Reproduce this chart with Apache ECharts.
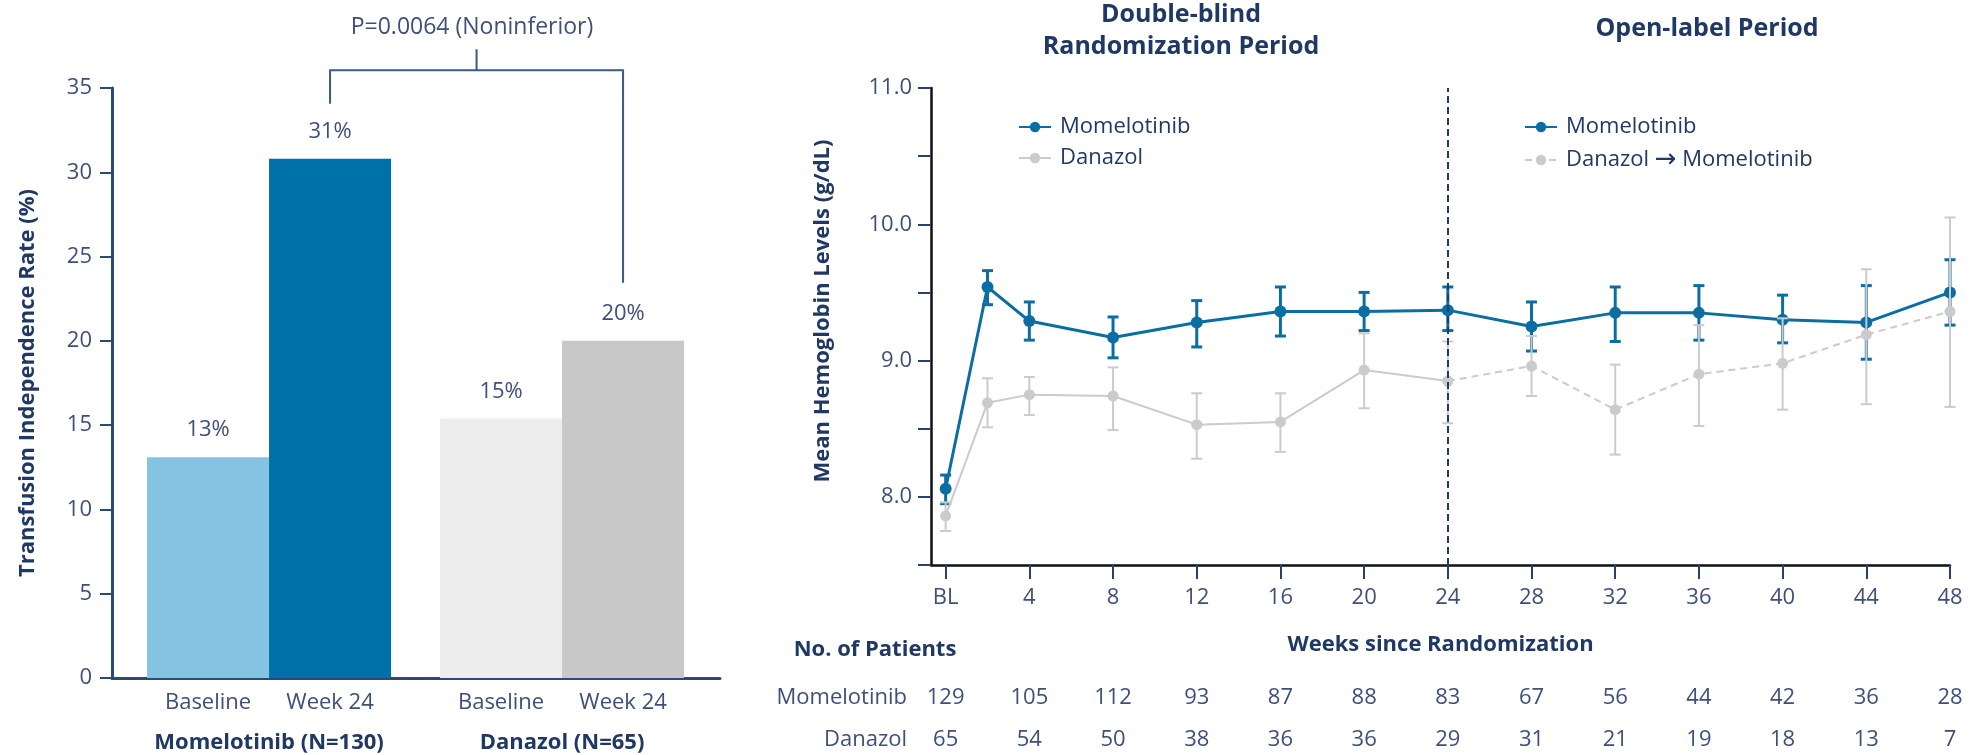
<!DOCTYPE html>
<html><head><meta charset="utf-8">
<script src="https://cdn.jsdelivr.net/npm/echarts@6/dist/echarts.min.js"></script>
<style>html,body{margin:0;padding:0;background:#fff}#c{width:1972px;height:755px}</style>
</head><body><div id="c"></div>
<script>
// ---------- Left panel data ----------
const barGroups = ['Momelotinib (N=130)', 'Danazol (N=65)'];
const barTimepoints = ['Baseline', 'Week 24'];
const tiBaseline = [13.1, 15.4];
const tiWeek24 = [30.8, 20.0];
const leftTickMax = 35, leftTickStep = 5;
const pValueText = 'P=0.0064 (Noninferior)';

// ---------- Right panel data ----------
const weeks    = [0, 2, 4, 8, 12, 16, 20, 24, 28, 32, 36, 40, 44, 48];
const momMean  = [8.06, 9.54, 9.29, 9.17, 9.28, 9.36, 9.36, 9.37, 9.25, 9.35, 9.35, 9.30, 9.28, 9.50];
const momLow   = [7.95, 9.41, 9.15, 9.02, 9.10, 9.18, 9.22, 9.22, 9.07, 9.14, 9.15, 9.13, 9.01, 9.26];
const momHigh  = [8.16, 9.66, 9.43, 9.32, 9.44, 9.54, 9.50, 9.54, 9.43, 9.54, 9.55, 9.48, 9.55, 9.74];

const danWeeks = [0, 2, 4, 8, 12, 16, 20, 24];
const danMean  = [7.86, 8.69, 8.75, 8.74, 8.53, 8.55, 8.93, 8.85];
const danLow   = [7.75, 8.51, 8.60, 8.49, 8.28, 8.33, 8.65, 8.54];
const danHigh  = [7.96, 8.87, 8.88, 8.95, 8.76, 8.76, 9.20, 9.14];

const olWeeks  = [24, 28, 32, 36, 40, 44, 48];
const olMean   = [8.85, 8.96, 8.64, 8.90, 8.98, 9.19, 9.36];
const olLow    = [8.54, 8.74, 8.31, 8.52, 8.64, 8.68, 8.66];
const olHigh   = [9.14, 9.18, 8.97, 9.26, 9.31, 9.67, 10.05];

const tableWeeks = [0, 4, 8, 12, 16, 20, 24, 28, 32, 36, 40, 44, 48];
const momN = [129, 105, 112, 93, 87, 88, 83, 67, 56, 44, 42, 36, 28];
const danN = [65, 54, 50, 38, 36, 36, 29, 31, 21, 19, 18, 13, 7];
const switchWeek = 24;

// ---------- Styles ----------
const FONT = 'Open Sans';
const NAVY = '#1f3864';
const SLATE = '#3e5079';
const BLUE = '#0b6ea3';
const GRAY = '#cbcbcb';
const baselineColors = ['#85c3e2', '#ededed'];
const week24Colors = ['#0070a9', '#c8c8c8'];
const BAR_W = 122;
const FS = 22;

const chart = echarts.init(document.getElementById('c'), null, {renderer: 'canvas'});

function errRender(color, width, cap) {
  return function (params, api) {
    const x = api.value(0), lo = api.value(1), hi = api.value(2);
    const p1 = api.coord([x, lo]), p2 = api.coord([x, hi]);
    const st = {stroke: color, lineWidth: width};
    return {type: 'group', children: [
      {type: 'line', shape: {x1: p1[0], y1: p1[1], x2: p2[0], y2: p2[1]}, style: st},
      {type: 'line', shape: {x1: p1[0] - cap, y1: p1[1], x2: p1[0] + cap, y2: p1[1]}, style: st},
      {type: 'line', shape: {x1: p2[0] - cap, y1: p2[1], x2: p2[0] + cap, y2: p2[1]}, style: st}
    ]};
  };
}

const grayErr = danWeeks.map((w, i) => [w, danLow[i], danHigh[i]])
  .concat(olWeeks.map((w, i) => [w, olLow[i], olHigh[i]]).filter(d => d[0] > switchWeek));

function txt(text, x, y, size, weight, color, lh) {
  return {type: 'text', x: x, y: y, silent: true, style: {
    text: text, fill: color, fontSize: size, fontWeight: weight, fontFamily: FONT,
    align: 'center', verticalAlign: 'middle', textAlign: 'center', textVerticalAlign: 'middle',
    lineHeight: lh || size * 1.3
  }};
}

const legendText = {fontSize: FS, color: NAVY, fontFamily: FONT, padding: [0, 0, 0, 4],
  rich: {a: {fontSize: FS, color: NAVY, fontFamily: FONT},
         r: {fontSize: 26, color: NAVY, fontFamily: 'DejaVu Sans'}}};
const legendFmt = (n) => n.indexOf('\u2192') >= 0
  ? n.split('\u2192').map(s => '{a|' + s + '}').join('{r|\u2192}') : n;

const option = {
  animation: false,
  backgroundColor: '#ffffff',
  textStyle: {fontFamily: FONT},
  grid: [
    {left: 112, top: 88, width: 608, height: 590},
    {left: 931, top: 88, width: 1019, height: 477}
  ],
  legend: [
    {data: ['Momelotinib', 'Danazol'], orient: 'vertical', left: 1013, top: 111,
     itemWidth: 32, itemHeight: 13, itemGap: 9, textStyle: legendText, formatter: legendFmt},
    {data: ['Momelotinib', 'Danazol \u2192 Momelotinib'], orient: 'vertical', left: 1519, top: 111,
     itemWidth: 32, itemHeight: 13, itemGap: 9, textStyle: legendText, formatter: legendFmt}
  ],
  xAxis: [
    {type: 'value', gridIndex: 0, min: -0.536, max: 1.539,
     axisLine: {onZero: false, lineStyle: {color: '#2a4a7b', width: 3}}, axisTick: {show: false},
     splitLine: {show: false},
     axisLabel: {customValues: [0, 1], margin: 7,
       formatter: (v) => '{s|' + barTimepoints[0] + '}{s|' + barTimepoints[1] + '}\n{g|' + barGroups[Math.round(v)] + '}',
       rich: {
         s: {width: BAR_W, align: 'center', fontSize: FS, color: SLATE, fontFamily: FONT, lineHeight: 36},
         g: {fontSize: FS, fontWeight: 'bold', color: NAVY, fontFamily: FONT, lineHeight: 44}
       }}},
    {type: 'value', gridIndex: 1, min: -0.7, max: 48,
     axisLine: {onZero: false, lineStyle: {color: '#111111', width: 2.5}},
     axisTick: {customValues: tableWeeks, length: 14, lineStyle: {color: '#2a3f6e', width: 2}},
     axisLabel: {customValues: tableWeeks, formatter: (v) => v === 0 ? 'BL' : String(v), margin: 22, fontSize: FS, color: SLATE},
     splitLine: {show: false},
     name: 'Weeks since Randomization', nameLocation: 'middle', nameGap: 69,
     nameTextStyle: {fontSize: FS, fontWeight: 'bold', color: NAVY}},
    {type: 'value', gridIndex: 1, min: -0.7, max: 48, position: 'bottom', offset: 133,
     axisLine: {show: false, onZero: false}, axisTick: {show: false}, splitLine: {show: false},
     axisLabel: {customValues: tableWeeks, formatter: (v) => String(momN[tableWeeks.indexOf(v)]),
       margin: 0, verticalAlign: 'middle', fontSize: FS, color: SLATE},
     name: 'Momelotinib', nameLocation: 'start', nameGap: 24,
     nameTextStyle: {fontSize: FS, color: SLATE, align: 'right', verticalAlign: 'middle'}},
    {type: 'value', gridIndex: 1, min: -0.7, max: 48, position: 'bottom', offset: 175,
     axisLine: {show: false, onZero: false}, axisTick: {show: false}, splitLine: {show: false},
     axisLabel: {customValues: tableWeeks, formatter: (v) => String(danN[tableWeeks.indexOf(v)]),
       margin: 0, verticalAlign: 'middle', fontSize: FS, color: SLATE},
     name: 'Danazol', nameLocation: 'start', nameGap: 24,
     nameTextStyle: {fontSize: FS, color: SLATE, align: 'right', verticalAlign: 'middle'}}
  ],
  yAxis: [
    {type: 'value', gridIndex: 0, min: 0, max: leftTickMax, interval: leftTickStep,
     axisLine: {show: true, onZero: false, lineStyle: {color: '#2a4a7b', width: 3}},
     axisTick: {show: true, length: 12, lineStyle: {color: '#2a4a7b', width: 2}},
     axisLabel: {fontSize: FS, color: SLATE, margin: 20},
     splitLine: {show: false},
     name: 'Transfusion Independence Rate (%)', nameLocation: 'middle', nameGap: 73,
     nameTextStyle: {fontSize: FS, fontWeight: 'bold', color: NAVY}},
    {type: 'value', gridIndex: 1, min: 7.5, max: 11, interval: 0.5,
     axisLine: {show: true, onZero: false, lineStyle: {color: '#111111', width: 2.5}},
     axisTick: {show: true, length: 13, lineStyle: {color: '#2a3f6e', width: 2}},
     axisLabel: {fontSize: FS, color: SLATE, margin: 19, formatter: (v) => (Math.abs(v - Math.round(v)) < 1e-6 ? v.toFixed(1) : '')},
     splitLine: {show: false},
     name: 'Mean Hemoglobin Levels (g/dL)', nameLocation: 'middle', nameGap: 97,
     nameTextStyle: {fontSize: FS, fontWeight: 'bold', color: NAVY, padding: [0, 0, 0, 31]}}
  ],
  series: [
    {name: 'Baseline', type: 'bar', xAxisIndex: 0, yAxisIndex: 0, barWidth: BAR_W, barGap: '0%',
     data: tiBaseline.map((v, i) => ({value: [i, v], itemStyle: {color: baselineColors[i]}})),
     label: {show: true, position: 'top', distance: 16, fontSize: FS, color: SLATE, formatter: (p) => Math.round(p.value[1]) + '%'}},
    {name: 'Week 24', type: 'bar', xAxisIndex: 0, yAxisIndex: 0, barWidth: BAR_W, barGap: '0%',
     data: tiWeek24.map((v, i) => ({value: [i, v], itemStyle: {color: week24Colors[i]}})),
     label: {show: true, position: 'top', distance: 16, fontSize: FS, color: SLATE, formatter: (p) => Math.round(p.value[1]) + '%'}},
    {name: 'bracket', type: 'custom', xAxisIndex: 0, yAxisIndex: 0, clip: false, silent: true, z: 5,
     data: [[0, tiWeek24[0], 1, tiWeek24[1]]],
     encode: {x: 0, y: 1},
     renderItem: function (params, api) {
       const a = api.coord([api.value(0), api.value(1)]);
       const b = api.coord([api.value(2), api.value(3)]);
       const xa = a[0] + BAR_W / 2, xb = b[0] + BAR_W / 2;
       const yTop = api.coord([0, 36.05])[1];
       const yTick = api.coord([0, 37.3])[1];
       const st = {stroke: '#3a5a88', lineWidth: 2, fill: null};
       const xm = (xa + xb) / 2;
       return {type: 'group', children: [
         {type: 'polyline', shape: {points: [[xa, a[1] - 55], [xa, yTop], [xb, yTop], [xb, b[1] - 58]]}, style: st},
         {type: 'line', shape: {x1: xm, y1: yTop, x2: xm, y2: yTick}, style: st}
       ]};
     }},
    {name: 'Momelotinib', type: 'line', xAxisIndex: 1, yAxisIndex: 1, z: 2,
     data: weeks.map((w, i) => [w, momMean[i]]),
     symbol: 'circle', symbolSize: 12, itemStyle: {color: BLUE}, lineStyle: {color: BLUE, width: 3}},
    {name: 'momErr', type: 'custom', xAxisIndex: 1, yAxisIndex: 1, z: 2, silent: true,
     data: weeks.map((w, i) => [w, momLow[i], momHigh[i]]), encode: {x: 0, y: [1, 2]},
     renderItem: errRender(BLUE, 3, 5.5)},
    {name: 'Danazol', type: 'line', xAxisIndex: 1, yAxisIndex: 1, z: 3,
     data: danWeeks.map((w, i) => [w, danMean[i]]),
     symbol: 'circle', symbolSize: 11, itemStyle: {color: GRAY}, lineStyle: {color: GRAY, width: 2}},
    {name: 'Danazol \u2192 Momelotinib', type: 'line', xAxisIndex: 1, yAxisIndex: 1, z: 3,
     data: olWeeks.map((w, i) => [w, olMean[i]]),
     symbol: 'circle', symbolSize: 11, itemStyle: {color: GRAY}, lineStyle: {color: GRAY, width: 2, type: [7, 5]}},
    {name: 'danErr', type: 'custom', xAxisIndex: 1, yAxisIndex: 1, z: 4, silent: true,
     data: grayErr, encode: {x: 0, y: [1, 2]},
     renderItem: errRender(GRAY, 2, 5.5)},
    {name: 'switch', type: 'line', xAxisIndex: 1, yAxisIndex: 1, z: 6, data: [],
     markLine: {symbol: 'none', silent: true, label: {show: false},
       lineStyle: {color: '#1f3a6e', width: 2, type: [7, 4]},
       data: [{xAxis: switchWeek}]}}
  ],
  graphic: [
    txt(pValueText, 472, 27, 23, 'normal', SLATE),
    txt('Double-blind\nRandomization Period', 1181, 31, 25, 'bold', NAVY, 32),
    txt('Open-label Period', 1707, 29, 25, 'bold', NAVY),
    txt('No. of Patients', 875, 650, FS, 'bold', NAVY)
  ]
};
chart.setOption(option);
</script></body></html>
